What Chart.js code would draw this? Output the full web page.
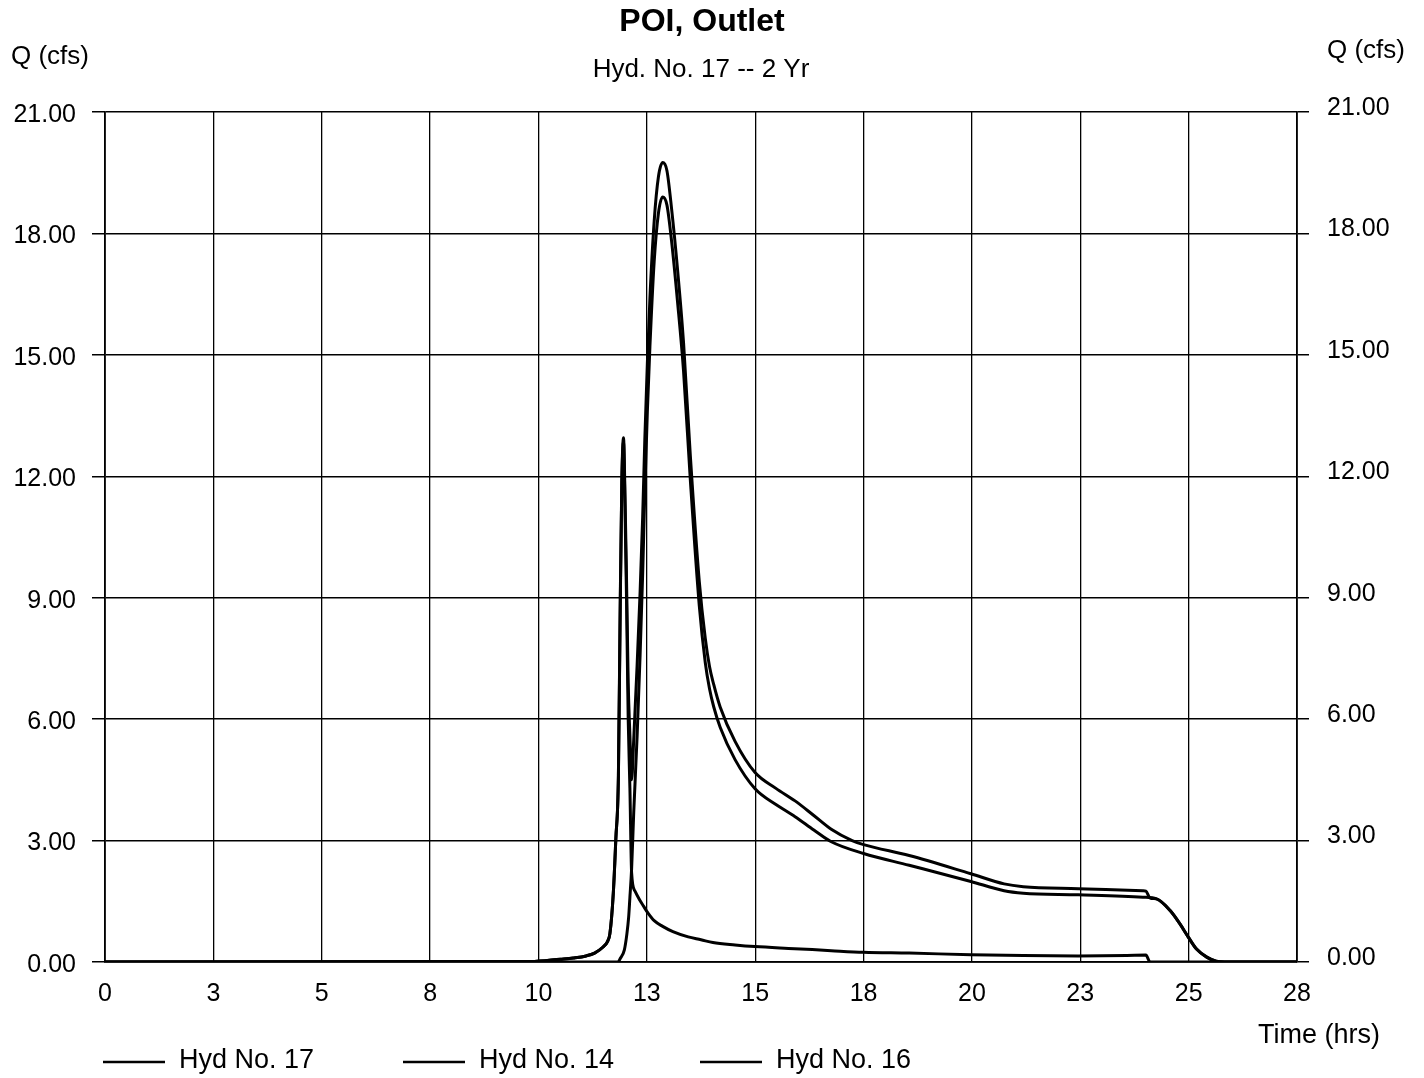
<!DOCTYPE html>
<html>
<head>
<meta charset="utf-8">
<script src="https://cdn.jsdelivr.net/npm/chart.js@4/dist/chart.umd.min.js"></script>
<style>
  html, body { margin: 0; padding: 0; background: #fff; }
  #wrap { width: 1424px; height: 1078px; }
</style>
</head>
<body>
<div id="wrap"><canvas id="c" width="1424" height="1078"></canvas></div>
<script>
// ---- data (time in hrs, Q in cfs) ----
const xTickLabels = ['0', '3', '5', '8', '10', '13', '15', '18', '20', '23', '25', '28'];
const xMax = 28;
const yMax = 21;
const yStep = 3;

const hyd17Time = [0, 10.0, 10.7, 11.0, 11.3, 11.5, 11.7, 11.8, 11.86, 11.94,
  12.0, 12.06, 12.1, 12.14, 12.18, 12.21, 12.25, 12.29, 12.33, 12.37,
  12.42, 12.5, 12.57, 12.63, 12.68, 12.74, 12.8, 12.9, 13.0, 13.1,
  13.2, 13.31, 13.45, 13.59, 13.75, 13.96, 14.1, 14.2, 14.3, 14.45,
  14.8, 15.27, 15.76, 16.21, 16.65, 17.06, 17.55, 17.82, 18.89, 20.34,
  21.12, 21.57, 22.86, 24.38, 24.45, 24.55, 24.7, 25.02, 25.25, 25.45,
  25.64, 25.88, 26.1, 26.3, 28];
const hyd17Q = [0, 0.01, 0.07, 0.1, 0.15, 0.22, 0.37, 0.5, 0.7, 1.7,
  3.05, 4.6, 8.6, 11.9, 12.95, 11.8, 9.5, 6.9, 5.6, 4.5,
  5.5, 7.35, 9.15, 11.0, 12.9, 14.8, 16.4, 18.3, 19.4, 19.75,
  19.55, 18.6, 17.1, 15.3, 12.5, 9.4, 8.0, 7.3, 6.85, 6.3,
  5.45, 4.68, 4.29, 3.98, 3.62, 3.28, 3.0, 2.9, 2.63, 2.18,
  1.93, 1.86, 1.81, 1.76, 1.75, 1.58, 1.56, 1.27, 0.94, 0.61,
  0.32, 0.12, 0.02, 0, 0];

const hyd14Time = [0, 10.0, 10.7, 11.0, 11.3, 11.5, 11.7, 11.8, 11.86, 11.94,
  12.0, 12.06, 12.1, 12.14, 12.18, 12.21, 12.25, 12.29, 12.33, 12.37,
  12.45, 12.55, 12.65, 12.76, 12.9, 13.1, 13.34, 13.7, 14.0, 14.28,
  14.8, 15.27, 16.2, 17.06, 17.82, 18.89, 20.34, 21.57, 22.86, 24.0,
  24.45, 24.55, 28];
const hyd14Q = [0, 0.01, 0.07, 0.1, 0.15, 0.22, 0.37, 0.5, 0.7, 1.7,
  3.05, 4.6, 8.5, 11.8, 12.85, 11.5, 9.0, 6.0, 4.3, 2.2,
  1.75, 1.55, 1.38, 1.2, 1.02, 0.88, 0.75, 0.62, 0.55, 0.48,
  0.42, 0.38, 0.33, 0.28, 0.24, 0.22, 0.18, 0.16, 0.15, 0.16,
  0.17, 0, 0];

const hyd16Time = [0, 12.05, 12.1, 12.2, 12.26, 12.3, 12.33, 12.37, 12.42, 12.5,
  12.57, 12.63, 12.68, 12.74, 12.8, 12.9, 13.0, 13.1, 13.2, 13.31,
  13.45, 13.59, 13.75, 13.96, 14.1, 14.2, 14.3, 14.45, 14.8, 15.27,
  15.76, 16.21, 16.65, 17.06, 17.82, 18.89, 20.34, 21.12, 21.57, 22.86,
  24.38, 24.7, 25.02, 25.25, 25.45, 25.64, 25.88, 26.1, 26.3, 28];
const hyd16Q = [0, 0, 0.08, 0.3, 0.7, 1.1, 1.6, 2.3, 3.7, 5.6,
  7.6, 9.6, 11.6, 13.6, 15.2, 17.3, 18.5, 18.9, 18.7, 17.8,
  16.3, 14.6, 11.9, 8.8, 7.4, 6.75, 6.3, 5.8, 5.0, 4.28,
  3.89, 3.59, 3.26, 2.97, 2.68, 2.39, 1.99, 1.76, 1.70, 1.66,
  1.60, 1.56, 1.27, 0.94, 0.61, 0.32, 0.12, 0.02, 0, 0];

const seriesNames = ['Hyd No. 17', 'Hyd No. 14', 'Hyd No. 16'];
const titleText = 'POI, Outlet';
const subtitleText = 'Hyd. No. 17 -- 2 Yr';
const yAxisTitle = 'Q (cfs)';
const xAxisTitle = 'Time (hrs)';

// ---- build ----
const pts = (t, q) => t.map((v, i) => ({ x: v, y: q[i] }));
const FONT = "'Liberation Sans', Arial, sans-serif";

const lineStyle = {
  borderColor: '#000',
  borderWidth: 3,
  pointRadius: 0,
  fill: false,
  cubicInterpolationMode: 'monotone'
};

const textPlugin = {
  id: 'texts',
  beforeDraw(chart) {
    const ctx = chart.ctx;
    ctx.save();
    ctx.fillStyle = '#fff';
    ctx.fillRect(0, 0, chart.width, chart.height);
    ctx.restore();
  },
  afterDraw(chart) {
    const ctx = chart.ctx;
    ctx.save();
    ctx.fillStyle = '#000';
    ctx.textBaseline = 'middle';
    ctx.textAlign = 'center';
    ctx.font = 'bold 32px ' + FONT;
    ctx.fillText(titleText, 702, 22);
    ctx.font = '26px ' + FONT;
    ctx.fillText(subtitleText, 701, 70);
    ctx.font = '26px ' + FONT;
    ctx.textAlign = 'left';
    ctx.fillText(yAxisTitle, 11, 57);
    ctx.fillText(yAxisTitle, 1327, 51);
    ctx.font = '27px ' + FONT;
    ctx.fillText(xAxisTitle, 1258, 1036);
    // legend
    const lx = [103, 403, 700];
    ctx.font = '27px ' + FONT;
    ctx.strokeStyle = '#000';
    ctx.lineWidth = 2.5;
    seriesNames.forEach((n, i) => {
      ctx.beginPath();
      ctx.moveTo(lx[i], 1062);
      ctx.lineTo(lx[i] + 62, 1062);
      ctx.stroke();
      ctx.fillText(n, lx[i] + 76, 1061);
    });
    ctx.restore();
  }
};

new Chart(document.getElementById('c'), {
  type: 'line',
  data: {
    datasets: [
      Object.assign({ label: seriesNames[0], data: pts(hyd17Time, hyd17Q) }, lineStyle),
      Object.assign({ label: seriesNames[1], data: pts(hyd14Time, hyd14Q) }, lineStyle),
      Object.assign({ label: seriesNames[2], data: pts(hyd16Time, hyd16Q) }, lineStyle)
    ]
  },
  options: {
    responsive: false,
    animation: false,
    devicePixelRatio: 1,
    layout: { padding: { top: 112, left: 0, right: 0, bottom: 0 } },
    plugins: { legend: { display: false }, title: { display: false }, tooltip: { enabled: false } },
    scales: {
      x: {
        type: 'linear',
        min: 0,
        max: xMax,
        afterBuildTicks: (s) => {
          s.ticks = xTickLabels.map((l, i) => ({ value: i * xMax / (xTickLabels.length - 1) }));
        },
        afterFit: (s) => { s.height = 1078 - 962; },
        ticks: {
          callback: (v, i) => xTickLabels[i],
          font: { family: FONT, size: 25 },
          color: '#000',
          padding: 17,
          maxRotation: 0,
          autoSkip: false
        },
        grid: { color: '#000', lineWidth: 1.3, drawTicks: false },
        border: { display: true, color: '#000', width: 1.8 }
      },
      y: {
        type: 'linear',
        position: 'left',
        min: 0,
        max: yMax,
        afterFit: (s) => { s.width = 105; },
        ticks: {
          stepSize: yStep,
          callback: (v) => Number(v).toFixed(2),
          font: { family: FONT, size: 25 },
          color: '#000',
          padding: 16,
          labelOffset: 3
        },
        grid: { color: '#000', lineWidth: 1.5, drawTicks: true, tickLength: 13 },
        border: { display: true, color: '#000', width: 1.8 }
      },
      y2: {
        type: 'linear',
        position: 'right',
        min: 0,
        max: yMax,
        afterFit: (s) => { s.width = 1424 - 1297; },
        ticks: {
          stepSize: yStep,
          callback: (v) => Number(v).toFixed(2),
          font: { family: FONT, size: 25 },
          color: '#000',
          padding: 18,
          labelOffset: -4
        },
        grid: { color: '#000', lineWidth: 1.5, drawOnChartArea: false, drawTicks: true, tickLength: 12 },
        border: { display: true, color: '#000', width: 1.8 }
      }
    }
  },
  plugins: [textPlugin]
});
</script>
</body>
</html>
